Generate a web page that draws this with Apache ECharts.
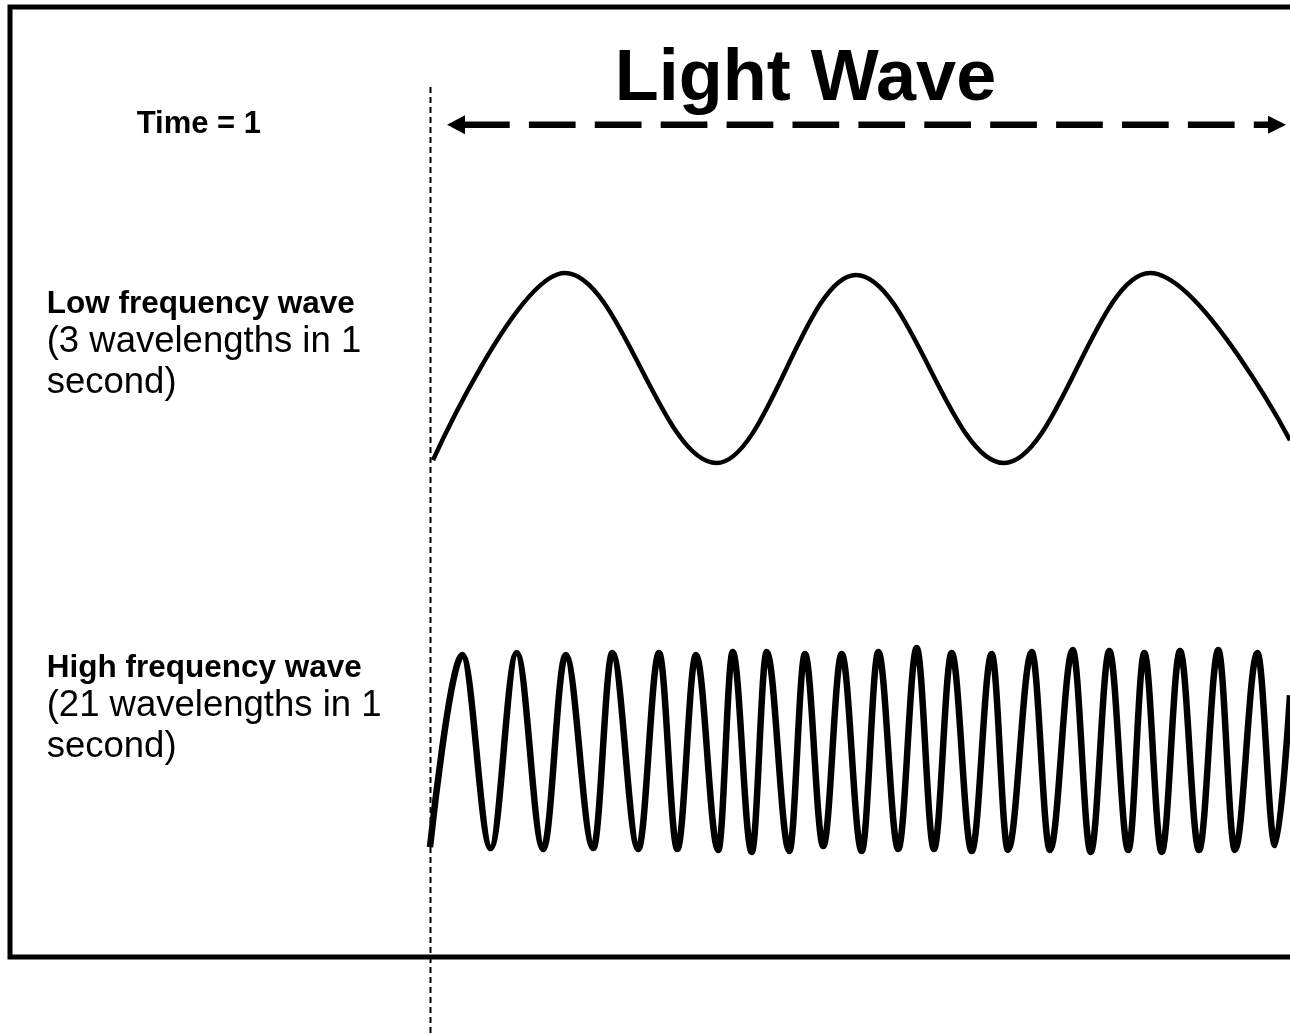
<!DOCTYPE html>
<html>
<head>
<meta charset="utf-8">
<title>Light Wave</title>
<script src="https://cdn.jsdelivr.net/npm/echarts@6/dist/echarts.min.js"></script>
<style>
  html, body { margin: 0; padding: 0; background: #fff; }
  #chart { width: 1290px; height: 1034px; }
</style>
</head>
<body>
<div id="chart"></div>
<script>
// time in ms over the 1 second span, amplitude relative to the wave height
// only the crests, troughs and the two ends are listed, the line is smoothed between them
var lowTime = [3.5, 157.0, 333.1, 495.3, 667.4, 837.2, 1000];
var lowAmp = [-0.97, 1.0, -1.0, 0.98, -1.0, 1.0, -0.76];

var highTime = [
  0, 37.6, 70.6, 100.8, 131.7, 157.8, 189.9, 212.0, 242.2, 266.3, 287.6,
  309.3, 335.2, 352.0, 374.1, 391.5, 417.8, 436.0, 457.3, 478.7, 502.0,
  521.3, 544.5, 565.9, 586.0, 606.6, 629.9, 653.1, 672.1, 699.7, 720.9,
  747.3, 768.3, 789.9, 812.0, 830.6, 850.8, 872.1, 894.2, 916.6, 936.0,
  962.0, 982.6, 1000
];
var highAmp = [
  -0.98, 0.98, -0.99, 1.0, -1.0, 0.98, -0.99, 1.0, -1.0, 1.0, -1.0,
  0.98, -1.01, 1.01, -1.03, 1.01, -1.02, 0.99, -0.97, 0.99, -1.02,
  1.01, -1.0, 1.05, -1.0, 1.0, -1.02, 0.99, -1.01, 1.01, -1.01,
  1.03, -1.03, 1.02, -1.01, 1.0, -1.03, 1.02, -1.01, 1.03, -1.01,
  1.0, -0.96, 0.57
];

var labels = {
  title: 'Light Wave',
  time: 'Time = 1',
  low: ['Low frequency wave', '(3 wavelengths in 1', 'second)'],
  high: ['High frequency wave', '(21 wavelengths in 1', 'second)']
};

function pairs(xs, ys) {
  return xs.map(function (x, i) { return [x, ys[i]]; });
}

var FONT = '"Liberation Sans", Arial, Helvetica, sans-serif';

function txt(s, x, y, size, bold, align) {
  return {
    type: 'text',
    x: x, y: y,
    style: {
      text: s,
      fill: '#000',
      font: (bold ? 'bold ' : '') + size + 'px ' + FONT,
      textAlign: align || 'left',
      textVerticalAlign: 'middle'
    }
  };
}

var chart = echarts.init(document.getElementById('chart'));

var option = {
  backgroundColor: '#fff',
  animation: false,
  grid: [
    { left: 430, width: 860, top: 263.5, height: 209 },
    { left: 430, width: 860, top: 643.2, height: 215.6 }
  ],
  xAxis: [
    { type: 'value', gridIndex: 0, min: 0, max: 1000, show: false },
    { type: 'value', gridIndex: 1, min: 0, max: 1000, show: false }
  ],
  yAxis: [
    { type: 'value', gridIndex: 0, min: -1.1, max: 1.1, show: false },
    { type: 'value', gridIndex: 1, min: -1.1, max: 1.1, show: false }
  ],
  series: [
    {
      name: 'low',
      type: 'line',
      xAxisIndex: 0, yAxisIndex: 0,
      data: pairs(lowTime, lowAmp),
      smooth: 0.36,
      smoothMonotone: 'x',
      showSymbol: false,
      clip: false,
      lineStyle: { color: '#000', width: 4.5 }
    },
    {
      name: 'high',
      type: 'line',
      xAxisIndex: 1, yAxisIndex: 1,
      data: pairs(highTime, highAmp),
      smooth: 0.36,
      smoothMonotone: 'x',
      showSymbol: false,
      clip: false,
      lineStyle: { color: '#000', width: 6.5 }
    }
  ],
  graphic: [
    // frame
    {
      type: 'rect',
      shape: { x: 10, y: 7, width: 1300, height: 950 },
      style: { fill: 'none', stroke: '#000', lineWidth: 5 }
    },
    // time = 1 marker
    {
      type: 'line',
      shape: { x1: 430.5, y1: 87, x2: 430.5, y2: 1034 },
      style: { stroke: '#000', lineWidth: 2, lineDash: [6, 4] }
    },
    // dashed double arrow
    {
      type: 'line',
      shape: { x1: 463, y1: 124.8, x2: 1269, y2: 124.8 },
      style: { stroke: '#000', lineWidth: 6.5, lineDash: [46.7, 19.2] }
    },
    {
      type: 'polygon',
      shape: { points: [[447, 124.8], [465, 115.3], [465, 134.3]] },
      style: { fill: '#000' }
    },
    {
      type: 'polygon',
      shape: { points: [[1286, 124.8], [1268, 115.8], [1268, 133.8]] },
      style: { fill: '#000' }
    },
    txt(labels.title, 805.5, 80.5, 72, true, 'center'),
    txt(labels.time, 136.7, 124, 31, true),
    txt(labels.low[0], 46.7, 304, 31.5, true),
    txt(labels.low[1], 46.7, 342, 36.5, false),
    txt(labels.low[2], 46.7, 383.3, 36.5, false),
    txt(labels.high[0], 46.7, 668, 31.5, true),
    txt(labels.high[1], 46.7, 706, 36.5, false),
    txt(labels.high[2], 46.7, 747.3, 36.5, false)
  ]
};

chart.setOption(option);
</script>
</body>
</html>
